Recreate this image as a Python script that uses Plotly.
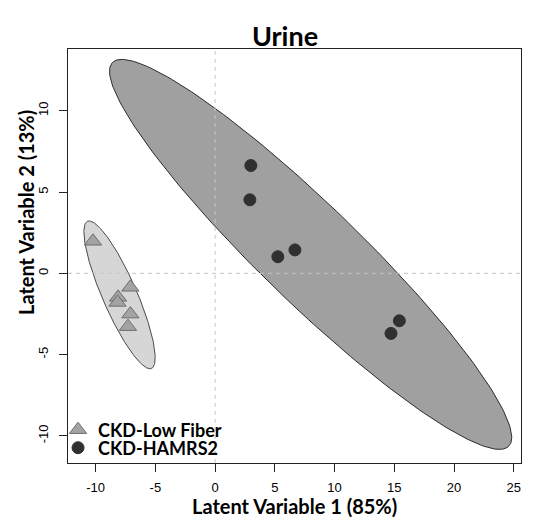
import numpy as np
import plotly.graph_objects as go

# ---- data ----
GROUPS = ["CKD-Low Fiber", "CKD-HAMRS2"]
LOWFIBER_X = [-10.22, -7.09, -8.12, -8.17, -7.09, -7.29]
LOWFIBER_Y = [1.97, -0.86, -1.48, -1.79, -2.51, -3.28]
HAMRS2_X = [2.99, 2.91, 5.25, 6.68, 15.42, 14.72]
HAMRS2_Y = [6.63, 4.52, 1.02, 1.44, -2.92, -3.70]
X_TICKS = [-10, -5, 0, 5, 10, 15, 20, 25]
Y_TICKS = [-10, -5, 0, 5, 10]
TITLE = "Urine"
X_LABEL = "Latent Variable 1 (85%)"
Y_LABEL = "Latent Variable 2 (13%)"

# ---- styles ----
STYLE = {
    "CKD-Low Fiber": dict(symbol="triangle-up", size=15, color="#a3a3a3", line="#6e6e6e",
                          efill="#d6d6d6", eline="#4a4a4a", escale=2.5,
                          legend="legend", ly=(463 - 430) / 414),
    "CKD-HAMRS2": dict(symbol="circle", size=12, color="#303030", line="#303030",
                       efill="#a0a0a0", eline="#2b2b2b", escale=2.97,
                       legend="legend2", ly=(463 - 448) / 414),
}


def ellipse(xs, ys, scale, n=240):
    xs, ys = np.asarray(xs), np.asarray(ys)
    c = np.array([xs.mean(), ys.mean()])
    cov = np.cov(np.vstack([xs, ys]))
    vals, vecs = np.linalg.eigh(cov)
    t = np.linspace(0, 2 * np.pi, n)
    circ = np.vstack([np.cos(t), np.sin(t)])
    pts = vecs @ (np.sqrt(vals)[:, None] * circ) * scale
    return c[0] + pts[0], c[1] + pts[1]


data = {"CKD-Low Fiber": (LOWFIBER_X, LOWFIBER_Y), "CKD-HAMRS2": (HAMRS2_X, HAMRS2_Y)}

fig = go.Figure()
for g in GROUPS:
    xs, ys = data[g]
    st = STYLE[g]
    ex, ey = ellipse(xs, ys, st["escale"])
    fig.add_trace(go.Scatter(x=ex, y=ey, mode="lines", fill="toself", fillcolor=st["efill"],
                             line=dict(color=st["eline"], width=1), showlegend=False,
                             hoverinfo="skip"))
for g in GROUPS:
    xs, ys = data[g]
    st = STYLE[g]
    fig.add_trace(go.Scatter(x=xs, y=ys, mode="markers", name="<b>%s</b>" % g,
                             legend=st["legend"],
                             marker=dict(symbol=st["symbol"], size=st["size"], color=st["color"],
                                         line=dict(color=st["line"], width=1))))

fig.add_vline(x=0, line=dict(color="#c4c4c4", width=1, dash="4px,4px"), layer="above")
fig.add_hline(y=0, line=dict(color="#c4c4c4", width=1, dash="4px,4px"), layer="above")

axis_common = dict(showgrid=False, zeroline=False, showline=True, mirror=True,
                   linecolor="#222222", linewidth=1, ticks="outside", ticklen=8,
                   tickcolor="#222222", tickfont=dict(family="Liberation Sans", size=13, color="black"))

legend_common = dict(x=-0.022, xanchor="left", yanchor="middle", bgcolor="rgba(0,0,0,0)",
                     font=dict(family="Lato", size=18, color="black"), itemsizing="trace")

fig.update_layout(
    width=533, height=521,
    margin=dict(l=68, r=12, t=49, b=58),
    paper_bgcolor="white", plot_bgcolor="white",
    title=dict(text="<b>%s</b>" % TITLE, font=dict(family="Lato", size=27, color="black"),
               x=285 / 533, xref="container", xanchor="center",
               y=1 - 37 / 521, yref="container", yanchor="middle"),
    xaxis=dict(range=[-12.31, 25.6], tickvals=X_TICKS, ticktext=[str(v) for v in X_TICKS],
               ticklabelstandoff=4, **axis_common),
    yaxis=dict(range=[-11.67, 13.8], tickvals=Y_TICKS, ticktext=[str(v) for v in Y_TICKS],
               tickangle=-90, ticklabelstandoff=6, **axis_common),
    showlegend=True,
    legend=dict(y=STYLE["CKD-Low Fiber"]["ly"], **legend_common),
    legend2=dict(y=STYLE["CKD-HAMRS2"]["ly"], **legend_common),
    annotations=[
        dict(text="<b>%s</b>" % X_LABEL, xref="paper", yref="paper", x=0.5, y=-(506 - 463) / 414,
             xanchor="center", yanchor="middle", showarrow=False,
             font=dict(family="Lato", size=20, color="black")),
        dict(text="<b>%s</b>" % Y_LABEL, xref="paper", yref="paper", x=(26 - 68) / 453,
             y=(463 - 213) / 414, xanchor="center", yanchor="middle", textangle=-90,
             showarrow=False, font=dict(family="Lato", size=20, color="black")),
    ],
)

fig.write_html("out.html")
